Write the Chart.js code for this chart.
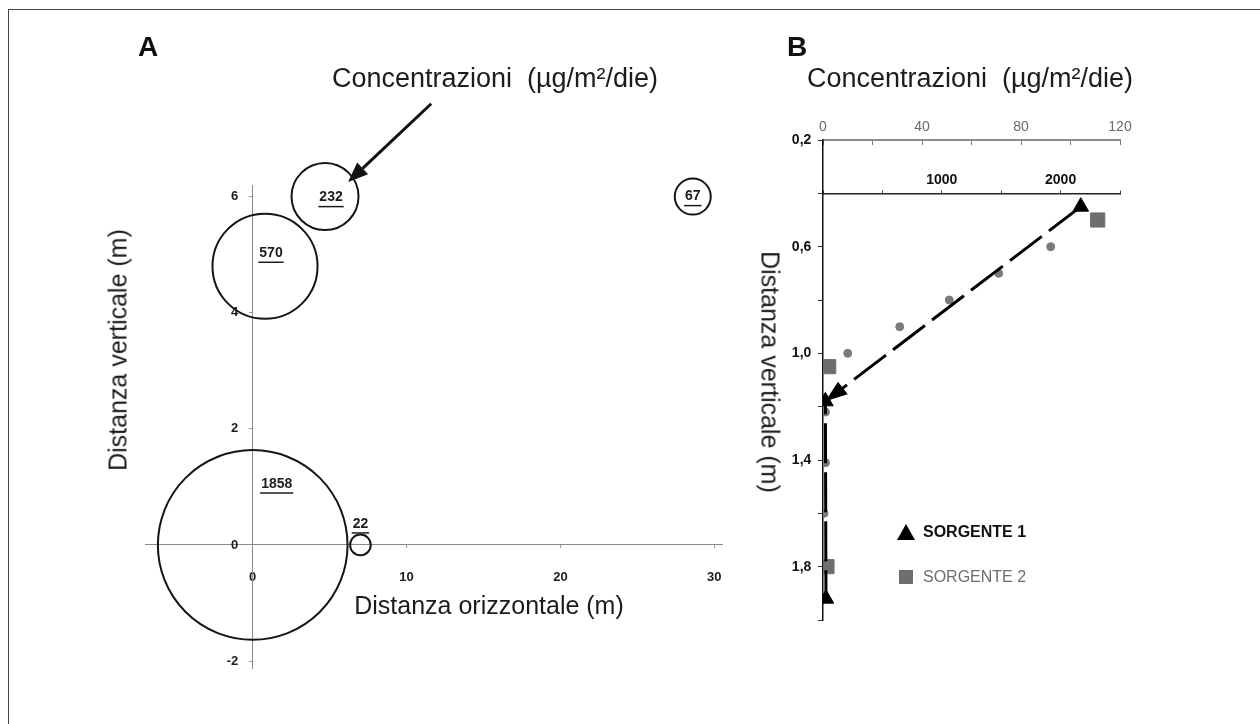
<!DOCTYPE html>
<html>
<head>
<meta charset="utf-8">
<script src="https://cdn.jsdelivr.net/npm/chart.js@4.4.0/dist/chart.umd.min.js"></script>
<style>
  body { margin: 0; background: #fff; font-family: "Liberation Sans", Arial, sans-serif; }
  #page { position: relative; width: 1260px; height: 724px; overflow: hidden; background: #fff; }
  canvas { position: absolute; top: 0; }
  #chartA { left: 0; }
  #chartB { left: 760px; }
  .frame { position: absolute; left: 8px; top: 9px; width: 1300px; height: 800px;
           border-top: 1.5px solid #444; border-left: 1.5px solid #444; }
  .txt { position: absolute; white-space: pre; color: #1c1c1c; transform: translate(-50%, -50%); }
  .panel { font-weight: bold; font-size: 28px; color: #111; }
  .title { font-size: 27px; }
  .axis { font-size: 25px; }
  .rotL { transform: translate(-50%, -50%) rotate(-90deg); }
  .rotR { transform: translate(-50%, -50%) rotate(90deg); }
  .leg { position: absolute; font-size: 16px; white-space: pre; }
  .tri { position: absolute; width: 0; height: 0; border-left: 9px solid transparent;
         border-right: 9px solid transparent; border-bottom: 16px solid #000; }
  .sq { position: absolute; width: 14px; height: 14px; background: #6e6e6e; }
</style>
</head>
<body>
<div id="page">
  <div class="frame"></div>
  <canvas id="chartA" width="822" height="768"></canvas>
  <canvas id="chartB" width="500" height="724"></canvas>

  <div class="txt panel" style="left:148px; top:47px;">A</div>
  <div class="txt panel" style="left:797px; top:47px;">B</div>
  <div class="txt title" style="left:495px; top:78px;">Concentrazioni  (µg/m²/die)</div>
  <div class="txt title" style="left:970px; top:78px;">Concentrazioni  (µg/m²/die)</div>
  <div class="txt axis rotL" style="left:118px; top:350px;">Distanza verticale (m)</div>
  <div class="txt axis" style="left:489px; top:605px;">Distanza orizzontale (m)</div>
  <div class="txt axis rotR" style="left:770px; top:372px;">Distanza verticale (m)</div>

  <div class="tri" style="left:897px; top:524px;"></div>
  <div class="leg" style="left:923px; top:523px; font-weight:bold; color:#111;">SORGENTE 1</div>
  <div class="sq" style="left:899px; top:570px;"></div>
  <div class="leg" style="left:923px; top:568px; color:#6e6e6e;">SORGENTE 2</div>
</div>

<script>
const FONT = '"Liberation Sans", Arial, sans-serif';

// Pannello A: punti di campionamento e concentrazioni
const posX = [0, 0.8, 4.7, 28.6, 7.0];
const posY = [0, 4.8, 6.0, 6.0, 0];
const concentrazioni = [1858, 570, 232, 67, 22];
const ticksAx = [0, 10, 20, 30];
const ticksAy = [-2, 0, 2, 4, 6];

// Pannello B: profilo verticale
const s1Conc = [2170, 20, 25];
const s1Quota = [0.45, 1.18, 1.92];
const s2Conc = [111, 2.3, 1.6];
const s2Quota = [0.5, 1.05, 1.8];
const campConc = [92, 71, 51, 31, 10, 1, 1, 0.4];
const campQuota = [0.6, 0.7, 0.8, 0.9, 1.0, 1.22, 1.41, 1.6];
const ticksBy = [0.2, 0.4, 0.6, 0.8, 1.0, 1.2, 1.4, 1.6, 1.8, 2.0];
const ticksBx1 = [0, 20, 40, 60, 80, 100, 120];
const ticksBx2 = [0, 500, 1000, 1500, 2000, 2500];

// spostamento delle etichette rispetto ai cerchi (px)
const labelShift = [[24, -61], [6, -13], [6, 1], [0, 0], [0, -21]];
// freccia del pannello A, in coordinate dati
const frecciaA = { da: [11.6, 7.6], a: [6.2, 6.25] };

function drawArrow(ctx, x1, y1, x2, y2, head, half, width) {
    const ang = Math.atan2(y2 - y1, x2 - x1);
    const bx = x2 - Math.cos(ang) * head;
    const by = y2 - Math.sin(ang) * head;
    ctx.lineWidth = width;
    ctx.setLineDash([]);
    ctx.beginPath();
    ctx.moveTo(x1, y1);
    ctx.lineTo(bx, by);
    ctx.stroke();
    ctx.beginPath();
    ctx.moveTo(x2, y2);
    ctx.lineTo(bx + Math.sin(ang) * half, by - Math.cos(ang) * half);
    ctx.lineTo(bx - Math.sin(ang) * half, by + Math.cos(ang) * half);
    ctx.closePath();
    ctx.fill();
}

const bubbleLabels = {
    id: 'bubbleLabels',
    afterDatasetsDraw(chart) {
        const ctx = chart.ctx;
        const meta = chart.getDatasetMeta(0);
        ctx.save();
        ctx.font = 'bold 14px ' + FONT;
        ctx.fillStyle = '#1c1c1c';
        ctx.strokeStyle = '#1c1c1c';
        ctx.textAlign = 'center';
        ctx.textBaseline = 'middle';
        meta.data.forEach((el, i) => {
            const tx = el.x + labelShift[i][0];
            const ty = el.y + labelShift[i][1];
            const txt = String(concentrazioni[i]);
            ctx.fillText(txt, tx, ty);
            const w = ctx.measureText(txt).width;
            ctx.lineWidth = 1.5;
            ctx.beginPath();
            ctx.moveTo(tx - w / 2 - 1, ty + 9);
            ctx.lineTo(tx + w / 2 + 1, ty + 9);
            ctx.stroke();
        });
        const sx = chart.scales.x, sy = chart.scales.y;
        ctx.fillStyle = '#111';
        ctx.strokeStyle = '#111';
        drawArrow(ctx,
            sx.getPixelForValue(frecciaA.da[0]), sy.getPixelForValue(frecciaA.da[1]),
            sx.getPixelForValue(frecciaA.a[0]), sy.getPixelForValue(frecciaA.a[1]),
            20, 8, 3);
        ctx.restore();
    }
};

const arrowB = {
    id: 'arrowB',
    afterDatasetsDraw(chart) {
        const ctx = chart.ctx;
        const pts = chart.getDatasetMeta(0).data;
        const a = pts[0], b = pts[1];
        const ang = Math.atan2(b.y - a.y, b.x - a.x);
        const head = 22, half = 8;
        const bx = b.x - Math.cos(ang) * head;
        const by = b.y - Math.sin(ang) * head;
        ctx.save();
        ctx.fillStyle = '#000';
        ctx.beginPath();
        ctx.moveTo(b.x, b.y);
        ctx.lineTo(bx + Math.sin(ang) * half, by - Math.cos(ang) * half);
        ctx.lineTo(bx - Math.sin(ang) * half, by + Math.cos(ang) * half);
        ctx.closePath();
        ctx.fill();
        ctx.restore();
    }
};

function fixedTicks(list) {
    return scale => { scale.ticks = list.map(v => ({ value: v })); };
}

// ---- Pannello A
new Chart(document.getElementById('chartA'), {
    type: 'bubble',
    data: {
        datasets: [{
            label: 'Concentrazioni',
            data: posX.map((x, i) => ({ x: x, y: posY[i], r: 2.2 * Math.sqrt(concentrazioni[i]) })),
            backgroundColor: 'rgba(0,0,0,0)',
            borderColor: '#151515',
            borderWidth: 2,
            hoverRadius: 0,
            clip: false
        }]
    },
    options: {
        responsive: false,
        animation: false,
        events: [],
        layout: { padding: { left: 145, right: 100, top: 185, bottom: 100 } },
        plugins: { legend: { display: false }, tooltip: { enabled: false } },
        scales: {
            x: {
                type: 'linear', position: { y: 0 }, min: -7, max: 30.5,
                afterBuildTicks: fixedTicks(ticksAx),
                grid: { drawOnChartArea: false, drawTicks: true, tickLength: 3, color: '#9a9a9a' },
                border: { display: true, color: '#8a8a8a', width: 1 },
                ticks: { padding: 22, color: '#1c1c1c', autoSkip: false, maxRotation: 0,
                         font: { family: FONT, size: 13, weight: 'bold' } }
            },
            y: {
                type: 'linear', position: { x: 0 }, min: -2.12, max: 6.2,
                afterBuildTicks: fixedTicks(ticksAy),
                grid: { drawOnChartArea: false, drawTicks: true, tickLength: 3, color: '#9a9a9a' },
                border: { display: true, color: '#8a8a8a', width: 1 },
                ticks: { padding: 13, color: '#1c1c1c', autoSkip: false,
                         callback: v => v + '    ',
                         font: { family: FONT, size: 13, weight: 'bold' } }
            }
        }
    },
    plugins: [bubbleLabels]
});

// ---- Pannello B
new Chart(document.getElementById('chartB'), {
    type: 'scatter',
    data: {
        datasets: [{
            label: 'SORGENTE 1',
            xAxisID: 'x2',
            data: s1Conc.map((c, i) => ({ x: c, y: s1Quota[i] })),
            showLine: true,
            borderColor: '#000',
            borderWidth: 3,
            borderDash: [40, 9],
            borderCapStyle: 'butt',
            pointStyle: 'triangle',
            pointRadius: 9,
            pointBackgroundColor: '#000',
            pointBorderColor: '#000',
            pointBorderWidth: 1
        }, {
            label: 'SORGENTE 2',
            xAxisID: 'x1',
            data: s2Conc.map((c, i) => ({ x: c, y: s2Quota[i] })),
            pointStyle: 'rect',
            pointRadius: 10,
            backgroundColor: '#6e6e6e',
            borderColor: '#6e6e6e'
        }, {
            label: 'campioni',
            xAxisID: 'x1',
            data: campConc.map((c, i) => ({ x: c, y: campQuota[i] })),
            pointRadius: 4,
            backgroundColor: '#7a7a7a',
            borderColor: '#7a7a7a'
        }]
    },
    options: {
        responsive: false,
        animation: false,
        events: [],
        layout: { padding: { left: 63, right: 140, top: 140, bottom: 104 } },
        plugins: { legend: { display: false }, tooltip: { enabled: false } },
        scales: {
            x1: {
                type: 'linear', position: { y: 0.2 }, min: 0, max: 120,
                afterBuildTicks: fixedTicks(ticksBx1),
                grid: { drawOnChartArea: false, drawTicks: true, tickLength: 4, color: '#777' },
                border: { display: true, color: '#8c8c8c', width: 2 },
                ticks: { padding: -25, color: '#6a6a6a', autoSkip: false, maxRotation: 0,
                         callback: v => (v % 40 === 0 ? String(v) : ''),
                         font: { family: FONT, size: 14 } }
            },
            x2: {
                type: 'linear', position: { y: 0.4 }, min: 0, max: 2500,
                afterBuildTicks: fixedTicks(ticksBx2),
                grid: { drawOnChartArea: false, drawTicks: true, tickLength: -4, color: '#444' },
                border: { display: true, color: '#222', width: 1.5 },
                ticks: { padding: -18, color: '#111', autoSkip: false, maxRotation: 0,
                         callback: v => (v === 1000 || v === 2000 ? String(v) : ''),
                         font: { family: FONT, size: 14, weight: 'bold' } }
            },
            y: {
                type: 'linear', position: { x1: 0 }, reverse: true, min: 0.2, max: 2.0,
                afterBuildTicks: fixedTicks(ticksBy),
                grid: { drawOnChartArea: false, drawTicks: true, tickLength: 4, color: '#333' },
                border: { display: true, color: '#111', width: 1.5 },
                ticks: { padding: 7, color: '#111', autoSkip: false,
                         callback: v => (Math.round(v * 10) % 4 === 2 ? v.toFixed(1).replace('.', ',') + '   ' : ''),
                         font: { family: FONT, size: 14, weight: 'bold' } }
            }
        }
    },
    plugins: [arrowB]
});
</script>
</body>
</html>
